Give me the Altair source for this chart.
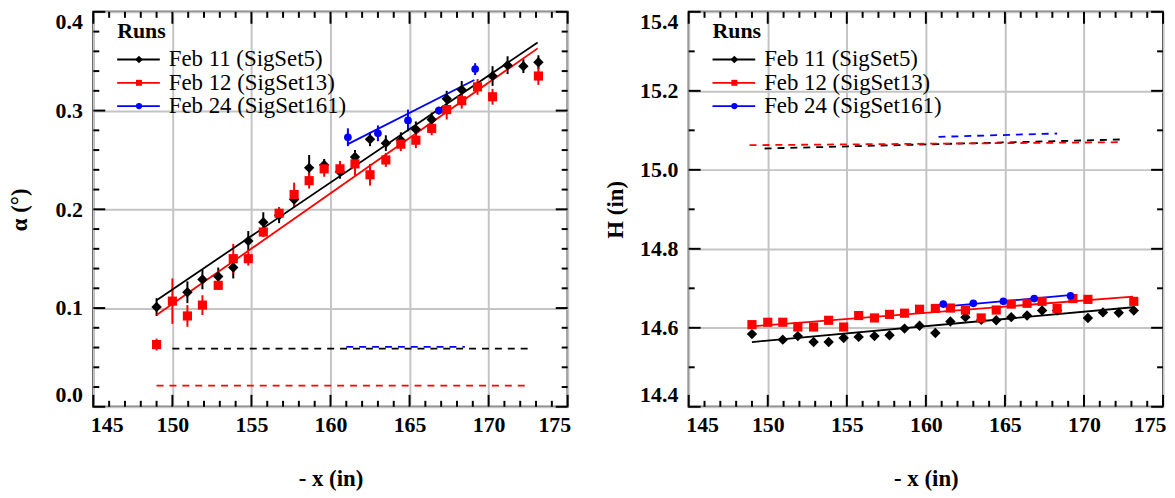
import altair as alt
import pandas as pd

FONT = "'Liberation Serif', 'Times New Roman', Times, serif"
SERIES = ["Feb 11 (SigSet5)", "Feb 12 (SigSet13)", "Feb 24 (SigSet161)"]
COLORS = ["#000000", "#ff0000", "#0000ff"]
SHAPES = ["diamond", "square", "circle"]
LEGEND_TITLE = "Runs"

X_MAJOR = [145, 150, 155, 160, 165, 170, 175]
X_MINOR = [v for v in range(146, 175) if v % 5 != 0]
ALPHA_MAJOR = [0.0, 0.1, 0.2, 0.3, 0.4]
ALPHA_MINOR = [0.02, 0.04, 0.06, 0.08, 0.12, 0.14, 0.16, 0.18, 0.22, 0.24, 0.26, 0.28,
               0.32, 0.34, 0.36, 0.38]
H_MAJOR = [14.4, 14.6, 14.8, 15.0, 15.2, 15.4]
H_MINOR = [14.5, 14.7, 14.9, 15.1, 15.3]

# Feb 11 (SigSet5)
x_feb11 = [149.0, 150.95, 151.9, 152.9, 153.85, 154.8, 155.75, 156.75, 157.7, 158.65, 159.6,
           160.6, 161.55, 162.5, 163.5, 164.45, 165.4, 166.4, 167.35, 168.3, 170.25, 171.2,
           172.2, 173.15]
alpha_feb11 = [0.101, 0.116, 0.129, 0.132, 0.141, 0.168, 0.187, 0.194, 0.210, 0.242, 0.245,
               0.238, 0.253, 0.271, 0.267, 0.270, 0.281, 0.291, 0.312, 0.321, 0.335, 0.346,
               0.345, 0.349]
alpha_err_feb11 = [0.009, 0.011, 0.010, 0.009, 0.011, 0.010, 0.010, 0.008, 0.008, 0.013, 0.006,
                   0.007, 0.007, 0.007, 0.008, 0.008, 0.008, 0.007, 0.008, 0.009, 0.010, 0.009,
                   0.007, 0.007]
h_feb11 = [14.584, 14.570, 14.579, 14.564, 14.564, 14.574, 14.577, 14.579, 14.581, 14.598,
           14.605, 14.587, 14.616, 14.627, 14.620, 14.619, 14.627, 14.631, 14.644, 14.644,
           14.625, 14.639, 14.638, 14.644]

# Feb 12 (SigSet13)
x_feb12 = [149.0, 150.0, 150.95, 151.9, 152.9, 153.85, 154.8, 155.75, 156.75, 157.7, 158.65,
           159.6, 160.6, 161.55, 162.5, 163.5, 164.45, 165.4, 166.4, 167.35, 168.3, 169.3,
           170.25, 173.15]
alpha_feb12 = [0.063, 0.107, 0.092, 0.103, 0.123, 0.150, 0.150, 0.177, 0.196, 0.215, 0.229,
               0.241, 0.241, 0.246, 0.235, 0.250, 0.266, 0.270, 0.282, 0.301, 0.310, 0.324,
               0.314, 0.335]
alpha_err_feb12 = [0.006, 0.023, 0.011, 0.010, 0.004, 0.015, 0.007, 0.005, 0.006, 0.012, 0.008,
                   0.008, 0.008, 0.012, 0.011, 0.007, 0.007, 0.008, 0.007, 0.010, 0.008, 0.008,
                   0.008, 0.009]
h_feb12 = [14.608, 14.614, 14.614, 14.602, 14.602, 14.619, 14.602, 14.631, 14.625, 14.634,
           14.637, 14.647, 14.649, 14.650, 14.645, 14.625, 14.645, 14.660, 14.662, 14.667,
           14.649, 14.674, 14.672, 14.667]

# Feb 24 (SigSet161)
x_feb24 = [161.1, 163.0, 164.9, 166.85, 169.15]
alpha_feb24 = [0.273, 0.277, 0.290, 0.300, 0.342]
alpha_err_feb24 = [0.009, 0.008, 0.011, 0.004, 0.006]
h_feb24 = [14.660, 14.662, 14.667, 14.674, 14.681]

# Fitted lines (start x, end x, start y, end y) per series
alpha_fit_x0 = [149.0, 149.0, 161.1]
alpha_fit_x1 = [173.1, 173.1, 169.1]
alpha_fit_y0 = [0.108, 0.093, 0.266]
alpha_fit_y1 = [0.369, 0.363, 0.331]
h_fit_x0 = [149.0, 149.0, 161.1]
h_fit_x1 = [173.1, 173.1, 169.1]
h_fit_y0 = [14.564, 14.6035, 14.6535]
h_fit_y1 = [14.652, 14.679, 14.6825]

# Dashed reference lines per series
alpha_ref_x0 = [150.0, 149.0, 161.0]
alpha_ref_x1 = [172.7, 172.6, 168.5]
alpha_ref_y0 = [0.059, 0.0215, 0.0606]
alpha_ref_y1 = [0.059, 0.0215, 0.0606]
h_ref_x0 = [149.8, 148.85, 160.8]
h_ref_x1 = [172.5, 172.5, 168.3]
h_ref_y0 = [15.054, 15.0625, 15.0835]
h_ref_y1 = [15.077, 15.070, 15.092]

W, H = 478, 398
MAJ, MIN = 12, 6


def points_df(ys, errs):
    rows = []
    for s, xs, yv, ev in zip(SERIES, [x_feb11, x_feb12, x_feb24], ys, errs):
        for i, xv in enumerate(xs):
            e = ev[i] if ev else 0.0
            rows.append({"series": s, "x": xv, "y": yv[i], "lo": yv[i] - e, "hi": yv[i] + e})
    return pd.DataFrame(rows)


def seg_df(x0, x1, y0, y1):
    rows = []
    for i, s in enumerate(SERIES):
        rows.append({"series": s, "x": x0[i], "y": y0[i]})
        rows.append({"series": s, "x": x1[i], "y": y1[i]})
    return pd.DataFrame(rows)


def panel(ydom, ytitle, ymajor, yminor, pts, fit, ref, with_err):
    xscale = alt.Scale(domain=[145, 175], nice=False, zero=False)
    yscale = alt.Scale(domain=ydom, nice=False, zero=False)
    xaxis = alt.Axis(values=X_MAJOR, title="- x (in)", format="d", grid=True, ticks=False,
                     domain=False, labelFlush=True, labelFlushOffset=3, labelPadding=8,
                     titlePadding=32)
    yaxis = alt.Axis(values=ymajor, title=ytitle, format=".1f", grid=True, ticks=False,
                     domain=False, labelFlush=True, labelPadding=11, minExtent=42,
                     maxExtent=42, titlePadding=20)

    def X(field="x"):
        return alt.X(f"{field}:Q", scale=xscale, axis=xaxis)

    def Y(field="y"):
        return alt.Y(f"{field}:Q", scale=yscale, axis=yaxis)

    color = alt.Color("series:N", scale=alt.Scale(domain=SERIES, range=COLORS), legend=None)
    shape = alt.Shape("series:N", scale=alt.Scale(domain=SERIES, range=SHAPES), legend=None)
    size = alt.Size("series:N", scale=alt.Scale(domain=SERIES, range=[110, 60, 70]), legend=None)

    layers = []
    layers.append(alt.Chart(ref).mark_line(strokeDash=[7, 6], strokeWidth=1.8)
                  .encode(x=X(), y=Y(), color=color, detail="series:N"))
    if with_err:
        layers.append(alt.Chart(pts).mark_rule(strokeWidth=2)
                      .encode(x=X(), y=alt.Y("lo:Q", scale=yscale, axis=yaxis),
                              y2="hi:Q", color=color))
    layers.append(alt.Chart(fit).mark_line(strokeWidth=1.8)
                  .encode(x=X(), y=Y(), color=color, detail="series:N"))
    layers.append(alt.Chart(pts).mark_point(filled=True, opacity=1)
                  .encode(x=X(), y=Y(), color=color, shape=shape, size=size))

    # inward ticks on all four sides
    xt_maj = pd.DataFrame({"x": X_MAJOR})
    xt_min = pd.DataFrame({"x": X_MINOR})
    yt_maj = pd.DataFrame({"y": ymajor})
    yt_min = pd.DataFrame({"y": yminor})
    tick = dict(color="black", strokeWidth=2)
    for d, ln in [(xt_maj, MAJ), (xt_min, MIN)]:
        layers.append(alt.Chart(d).mark_rule(**tick).encode(x=X(), y=alt.value(H), y2=alt.value(H - ln)))
        layers.append(alt.Chart(d).mark_rule(**tick).encode(x=X(), y=alt.value(0), y2=alt.value(ln)))
    for d, ln in [(yt_maj, MAJ), (yt_min, MIN)]:
        layers.append(alt.Chart(d).mark_rule(**tick).encode(y=Y(), x=alt.value(0), x2=alt.value(ln)))
        layers.append(alt.Chart(d).mark_rule(**tick).encode(y=Y(), x=alt.value(W), x2=alt.value(W - ln)))

    # legend drawn inside the plot
    layers.append(alt.Chart(pd.DataFrame({"t": [LEGEND_TITLE]}))
                  .mark_text(align="left", baseline="middle", font=FONT, fontSize=22,
                             fontWeight="bold", color="black")
                  .encode(x=alt.value(24), y=alt.value(19), text="t:N"))
    lsize = [60, 36, 40]
    for i, (s, c, sh) in enumerate(zip(SERIES, COLORS, SHAPES)):
        yy = 48 + 23.5 * i
        d = pd.DataFrame({"series": [s]})
        layers.append(alt.Chart(d).mark_rule(color=c, strokeWidth=1.8)
                      .encode(x=alt.value(24), x2=alt.value(67), y=alt.value(yy)))
        layers.append(alt.Chart(d).mark_point(filled=True, shape=sh, color=c, size=lsize[i], opacity=1)
                      .encode(x=alt.value(46), y=alt.value(yy)))
        layers.append(alt.Chart(d).mark_text(align="left", baseline="middle", font=FONT,
                                             fontSize=23, color="black")
                      .encode(x=alt.value(76), y=alt.value(yy), text="series:N"))

    return alt.layer(*layers).properties(width=W, height=H)


left = panel([0.0, 0.4], "α (°)", ALPHA_MAJOR, ALPHA_MINOR,
             points_df([alpha_feb11, alpha_feb12, alpha_feb24],
                       [alpha_err_feb11, alpha_err_feb12, alpha_err_feb24]),
             seg_df(alpha_fit_x0, alpha_fit_x1, alpha_fit_y0, alpha_fit_y1),
             seg_df(alpha_ref_x0, alpha_ref_x1, alpha_ref_y0, alpha_ref_y1), True)
right = panel([14.4, 15.4], "H (in)", H_MAJOR, H_MINOR,
              points_df([h_feb11, h_feb12, h_feb24], [None, None, None]),
              seg_df(h_fit_x0, h_fit_x1, h_fit_y0, h_fit_y1),
              seg_df(h_ref_x0, h_ref_x1, h_ref_y0, h_ref_y1), False)

chart = (
    alt.hconcat(left, right, spacing=32)
    .configure(padding={"left": 0, "top": 0, "right": 0, "bottom": 0})
    .configure_view(stroke="black", strokeWidth=2)
    .configure_axis(labelFont=FONT, labelFontSize=22, labelFontWeight="bold", labelColor="black",
                    titleFont=FONT, titleFontSize=23, titleFontWeight="bold", titleColor="black",
                    gridColor="#c4c4c4", gridWidth=2, gridOpacity=1)
)

chart.save("out.html", embed_options={"renderer": "svg", "actions": False})
